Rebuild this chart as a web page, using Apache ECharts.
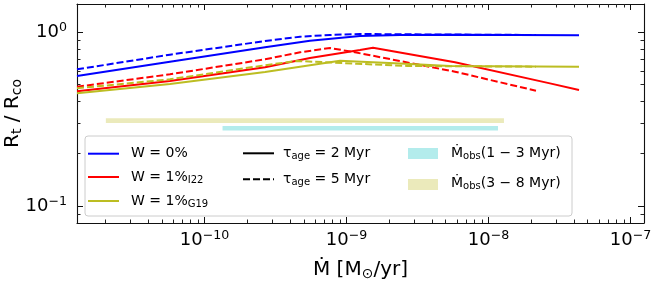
<!DOCTYPE html>
<html><head><meta charset="utf-8">
<script src="https://cdn.jsdelivr.net/npm/echarts@6/dist/echarts.min.js"></script>
<style>html,body{margin:0;padding:0;background:#fff}#c{width:659px;height:282px}</style>
</head><body><div id="c"></div>
<script>
const FONT = 'DejaVu Sans';

// axis ranges
const xRange = [1.265e-11, 1.245e-7];
const yRange = [0.0798, 1.455];
const xTickExps = [-10, -9, -8, -7];
const yTickExps = [-1, 0];
const xMinorTicks = [2e-11,3e-11,4e-11,5e-11,6e-11,7e-11,8e-11,9e-11,
  2e-10,3e-10,4e-10,5e-10,6e-10,7e-10,8e-10,9e-10,
  2e-9,3e-9,4e-9,5e-9,6e-9,7e-9,8e-9,9e-9,
  2e-8,3e-8,4e-8,5e-8,6e-8,7e-8,8e-8,9e-8];
const yMinorTicks = [0.09,0.2,0.3,0.4,0.5,0.6,0.7,0.8,0.9];

// W = 0%
const mdotBlue2 = [1.265e-11, 5.71e-11, 2.67e-10, 5.53e-10, 1.245e-9, 2.38e-9, 5.36e-9, 4.34e-8];
const rBlue2    = [0.560, 0.677, 0.820, 0.895, 0.952, 0.965, 0.969, 0.961];
const mdotBlue5 = [1.265e-11, 5.71e-11, 2.67e-10, 4.71e-10, 7.66e-10, 1.245e-9, 2.38e-9, 2.16e-8];
const rBlue5    = [0.612, 0.743, 0.891, 0.943, 0.965, 0.978, 0.974, 0.965];
// W = 1% I22
const mdotRed2 = [1.265e-11, 5.71e-11, 2.67e-10, 5.53e-10, 1.245e-9, 1.537e-9, 5.81e-9, 2.71e-8, 4.34e-8];
const rRed2    = [0.457, 0.524, 0.629, 0.711, 0.791, 0.815, 0.672, 0.508, 0.465];
const mdotRed5 = [1.265e-11, 5.71e-11, 2.67e-10, 4.71e-10, 7.66e-10, 1.148e-9, 5.81e-9, 2.16e-8];
const rRed5    = [0.486, 0.573, 0.699, 0.767, 0.812, 0.767, 0.593, 0.461];
// W = 1% G19
const mdotOlive2 = [1.265e-11, 5.71e-11, 2.67e-10, 9.0e-10, 2.38e-9, 5.36e-9, 4.34e-8];
const rOlive2    = [0.445, 0.504, 0.590, 0.686, 0.661, 0.640, 0.634];
const mdotOlive5 = [1.265e-11, 5.71e-11, 2.67e-10, 4.48e-10, 1.186e-9, 2.67e-9, 2.16e-8];
const rOlive5    = [0.476, 0.536, 0.646, 0.684, 0.659, 0.640, 0.634];
// observed ranges
const obs13Range = [1.34e-10, 1.167e-8], obs13R = 0.280;
const obs38Range = [2.02e-11, 1.285e-8], obs38R = 0.310;

const BLUE = '#0000ff', RED = '#ff0000', OLIVE = '#bcbd22';
const CYAN_BAR = '#b3ecec', KHAKI_BAR = '#ebeabb';
const zip = (a, b) => a.map((v, i) => [v, b[i]]);
const DASH = [7, 3];

function lineSeries(x, y, color, dashed) {
  return { type: 'line', data: zip(x, y), showSymbol: false, symbol: 'none', silent: true,
    lineStyle: { color, width: 2, type: dashed ? DASH : 'solid' }, z: 3 };
}
function barSeries(range, r, color) {
  return { type: 'line', data: [[range[0], r], [range[1], r]], showSymbol: false, symbol: 'none',
    silent: true, lineStyle: { color, width: 4.6, cap: 'butt' }, z: 2 };
}

const supRich = {
  b: { fontSize: 18, fontFamily: FONT, color: '#000' },
  s: { fontSize: 12.6, fontFamily: FONT, color: '#000', padding: [0, 0, 9, 0] }
};
function expLabel(v) {
  const e = Math.round(Math.log10(v));
  return '{b|10}{s|' + (e < 0 ? '\u2212' : '') + Math.abs(e) + '}';
}
const axLine = { show: true, lineStyle: { color: '#111', width: 1.1 } };

const chart = echarts.init(document.getElementById('c'), null, { renderer: 'canvas' });
const baseX = { type: 'log', logBase: 10, min: xRange[0], max: xRange[1], axisLine: axLine,
  splitLine: { show: false }, axisTick: { inside: true, length: 6, lineStyle: { color: '#111', width: 1 } } };
const baseY = { type: 'log', logBase: 10, min: yRange[0], max: yRange[1], axisLine: axLine,
  splitLine: { show: false }, axisTick: { inside: true, length: 6, lineStyle: { color: '#111', width: 1 } } };
function minorAxis(base, position, values) {
  return Object.assign({}, base, { gridIndex: 1, position, axisLine: { show: false },
    axisLabel: { show: false }, splitLine: { show: false },
    axisTick: { show: true, inside: true, length: 3.5, customValues: values, lineStyle: { color: '#222', width: 1 } } });
}

const legRich = {
  n: { fontFamily: FONT, fontSize: 14, color: '#000' },
  sub: { fontFamily: FONT, fontSize: 10, color: '#000', padding: [7, 0, 0, 0] }
};
function legText(x, y, text) {
  return { type: 'text', x, y, silent: true, z: 20,
    style: { text, rich: legRich, fontFamily: FONT, fontSize: 14, fill: '#000', verticalAlign: 'middle', align: 'left' } };
}
function legLine(x1, x2, y, color, dashed) {
  return { type: 'line', silent: true, z: 20, shape: { x1, y1: y, x2, y2: y },
    style: { stroke: color, lineWidth: 2, lineDash: dashed ? DASH : null } };
}
const nameRich = { r: { fontFamily: FONT, fontSize: 20, color: '#000' },
  sub: { fontFamily: FONT, fontSize: 14, color: '#000', padding: [8, 0, 0, 0] } };

const gridBox = { left: 77, right: 15, top: 4, bottom: 59, containLabel: false, outerBoundsMode: 'none' };

chart.setOption({
  animation: false,
  backgroundColor: '#fff',
  grid: [gridBox, Object.assign({}, gridBox)],
  xAxis: [
    Object.assign({}, baseX, { position: 'bottom',
      name: '{r|\u1E40 [M}{sub|\u2299}{r|/yr]}', nameLocation: 'middle', nameGap: 36, nameMoveOverlap: false,
      nameTextStyle: { rich: nameRich },
      axisLabel: { margin: 6, showMinLabel: false, showMaxLabel: false,
        formatter: v => xTickExps.includes(Math.round(Math.log10(v))) ? expLabel(v) : '', rich: supRich } }),
    Object.assign({}, baseX, { position: 'top', axisLabel: { show: false } }),
    minorAxis(baseX, 'bottom', xMinorTicks),
    minorAxis(baseX, 'top', xMinorTicks)
  ],
  yAxis: [
    Object.assign({}, baseY, { position: 'left',
      name: '{r|R}{sub|t}{r| / R}{sub|co}', nameLocation: 'middle', nameGap: 53, nameRotate: 90, nameMoveOverlap: false,
      nameTextStyle: { rich: nameRich },
      axisLabel: { margin: 10, showMinLabel: false, showMaxLabel: false,
        formatter: v => yTickExps.includes(Math.round(Math.log10(v))) ? expLabel(v) : '', rich: supRich } }),
    Object.assign({}, baseY, { position: 'right', axisLabel: { show: false } }),
    minorAxis(baseY, 'left', yMinorTicks),
    minorAxis(baseY, 'right', yMinorTicks)
  ],
  series: [
    barSeries(obs38Range, obs38R, KHAKI_BAR),
    barSeries(obs13Range, obs13R, CYAN_BAR),
    lineSeries(mdotBlue2, rBlue2, BLUE, false),
    lineSeries(mdotBlue5, rBlue5, BLUE, true),
    lineSeries(mdotRed2, rRed2, RED, false),
    lineSeries(mdotRed5, rRed5, RED, true),
    lineSeries(mdotOlive2, rOlive2, OLIVE, false),
    lineSeries(mdotOlive5, rOlive5, OLIVE, true)
  ],
  graphic: [
    { type: 'rect', silent: true, z: 19, shape: { x: 85, y: 136, width: 487, height: 80, r: 3 },
      style: { fill: 'rgba(255,255,255,0.85)', stroke: '#cccccc', lineWidth: 1 } },
    legLine(88, 119, 153.7, BLUE, false),
    legLine(88, 119, 177, RED, false),
    legLine(88, 119, 201, OLIVE, false),
    legText(131, 153.7, '{n|W = 0%}'),
    legText(131, 177, '{n|W = 1%}{sub|I22}'),
    legText(131, 201, '{n|W = 1%}{sub|G19}'),
    legLine(243, 274, 153.3, '#000', false),
    legLine(243, 274, 179.3, '#000', true),
    legText(283, 153.3, '{n|\u03C4}{sub|age}{n| = 2 Myr}'),
    legText(283, 179, '{n|\u03C4}{sub|age}{n| = 5 Myr}'),
    { type: 'rect', silent: true, z: 20, shape: { x: 408, y: 148, width: 30, height: 11 }, style: { fill: CYAN_BAR } },
    { type: 'rect', silent: true, z: 20, shape: { x: 408, y: 179, width: 30, height: 11 }, style: { fill: KHAKI_BAR } },
    legText(451, 153, '{n|\u1E40}{sub|obs}{n|(1 \u2212 3 Myr)}'),
    legText(451, 183, '{n|\u1E40}{sub|obs}{n|(3 \u2212 8 Myr)}')
  ]
});
</script></body></html>
